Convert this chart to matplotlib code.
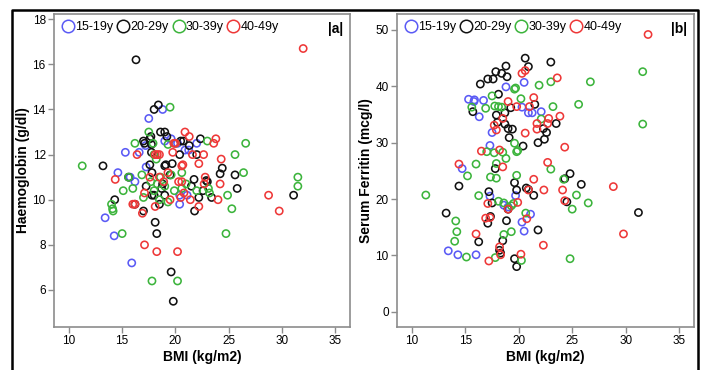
import matplotlib
matplotlib.use("Agg")
import matplotlib.pyplot as plt
from matplotlib.lines import Line2D

plt.rcParams['font.family'] = ['Liberation Sans', 'DejaVu Sans']

groups = ['15-19y', '20-29y', '30-39y', '40-49y']
colors = ['#5a5af5', '#111111', '#3cb43c', '#ee3838']

# panel a: BMI vs haemoglobin
hb_blue = [(13.4, 9.2), (14.25, 8.4), (15.9, 7.2), (14.6, 11.2), (15.3, 12.1), (15.75, 11.0),
           (16.2, 10.8), (17.25, 11.45), (17.5, 13.6), (18.8, 14.0), (19.6, 12.7), (20.4, 10.2),
           (20.4, 9.8), (20.9, 12.2), (21.25, 12.2), (22.0, 12.5), (21.1, 10.2), (17.2, 12.4),
           (19.0, 12.6), (16.6, 12.1), (20.2, 12.5)]
hb_black = [(16.3, 16.2), (18.4, 14.2), (18.0, 14.0), (18.6, 13.0), (19.0, 13.0), (17.7, 12.8),
            (19.2, 12.8), (17.0, 12.6), (17.6, 12.7), (17.1, 12.5), (17.75, 12.45), (20.5, 12.6),
            (20.75, 12.6), (21.3, 12.4), (22.35, 12.7), (13.2, 11.5), (17.75, 12.1), (20.4, 12.0),
            (22.0, 12.0), (17.6, 11.55), (19.1, 11.55), (19.7, 11.6), (19.0, 11.5), (24.4, 11.4),
            (24.2, 11.15), (25.6, 11.1), (15.6, 11.0), (17.8, 11.2), (19.5, 11.1), (21.75, 10.9),
            (23.0, 10.8), (17.25, 10.6), (25.8, 10.5), (18.7, 10.5), (21.5, 10.6), (22.6, 10.4),
            (23.4, 10.1), (22.2, 10.1), (21.8, 9.5), (14.3, 10.0), (17.0, 9.5), (17.8, 10.2),
            (18.0, 10.2), (18.5, 9.8), (19.0, 10.2), (31.1, 10.2), (18.1, 9.0), (18.25, 8.5),
            (19.6, 6.8), (19.8, 5.5), (16.2, 9.8), (18.8, 10.7), (22.9, 10.85)]
hb_green = [(11.25, 11.5), (19.5, 14.1), (17.5, 13.0), (16.2, 12.5), (23.0, 12.6), (26.6, 12.5),
            (17.9, 12.5), (19.3, 12.45), (20.0, 12.5), (18.0, 12.0), (25.6, 12.0), (26.4, 11.2),
            (16.85, 11.1), (15.6, 11.0), (17.7, 10.8), (31.5, 11.0), (31.5, 10.6), (15.1, 10.4),
            (16.0, 10.5), (17.0, 10.1), (18.0, 10.4), (18.5, 10.0), (19.3, 9.9), (19.9, 10.4),
            (20.6, 10.5), (22.0, 10.4), (23.1, 10.5), (23.2, 10.3), (24.9, 10.2), (25.3, 9.6),
            (14.0, 9.8), (14.1, 9.6), (14.15, 9.5), (15.0, 8.5), (24.75, 8.5), (17.8, 6.4),
            (20.2, 6.4), (18.6, 11.0), (21.0, 10.7), (18.3, 10.7), (19.6, 11.1), (20.6, 11.2),
            (18.2, 11.8), (19.0, 10.6)]
hb_red = [(32.0, 16.7), (20.9, 13.0), (21.3, 12.8), (23.8, 12.7), (23.6, 12.5), (19.85, 12.5),
          (20.0, 12.5), (16.4, 12.0), (18.1, 12.0), (18.5, 12.0), (18.3, 12.0), (19.75, 12.1),
          (21.6, 12.0), (22.65, 12.0), (24.3, 11.8), (22.2, 11.6), (20.6, 11.5), (20.7, 11.55),
          (14.35, 10.9), (18.5, 11.0), (20.3, 10.8), (20.6, 10.8), (22.8, 11.0), (22.7, 10.7),
          (24.2, 10.7), (17.1, 10.3), (20.8, 10.3), (20.5, 10.1), (21.4, 10.0), (19.5, 10.0),
          (24.0, 10.0), (28.75, 10.2), (29.75, 9.5), (22.2, 9.7), (16.0, 9.8), (16.2, 9.8),
          (16.9, 9.4), (18.1, 9.7), (17.1, 8.0), (18.25, 7.7), (20.2, 7.7), (18.9, 10.8),
          (17.6, 11.0), (19.3, 11.2)]

# panel b: BMI vs serum ferritin
fe_blue = [(15.3, 37.7), (15.8, 37.3), (15.85, 37.6), (16.7, 37.5), (16.3, 34.6), (18.8, 39.9),
           (20.5, 40.7), (20.3, 36.3), (20.9, 35.3), (21.25, 35.3), (22.1, 35.5), (17.5, 31.8),
           (17.3, 29.5), (14.7, 25.4), (13.4, 10.8), (14.3, 10.1), (16.0, 10.1), (17.3, 20.5),
           (18.6, 18.9), (19.0, 18.6), (19.7, 20.6), (20.3, 15.9), (20.5, 14.3), (21.1, 17.3)]
fe_black = [(20.6, 45.0), (23.0, 44.3), (18.8, 43.6), (20.9, 43.5), (17.85, 42.6), (18.4, 42.3),
            (18.9, 41.7), (17.1, 41.3), (17.6, 41.3), (16.4, 40.4), (18.1, 38.6), (15.7, 35.5),
            (19.25, 36.2), (21.5, 36.8), (17.9, 34.9), (18.0, 33.6), (18.7, 35.3), (18.7, 33.3),
            (19.0, 32.5), (19.4, 32.4), (19.1, 30.9), (22.3, 32.5), (22.6, 31.8), (22.4, 30.6),
            (21.8, 30.0), (23.5, 33.4), (20.4, 29.4), (17.8, 25.4), (14.4, 22.3), (24.3, 23.6),
            (24.8, 24.5), (25.85, 22.6), (19.6, 22.9), (19.8, 21.6), (20.7, 21.95), (20.9, 21.7),
            (21.4, 20.65), (17.2, 21.3), (17.5, 19.3), (24.5, 19.5), (19.0, 18.2), (13.2, 17.5),
            (16.25, 12.4), (17.35, 16.9), (17.1, 15.7), (18.85, 16.15), (18.5, 12.6), (18.2, 10.9),
            (18.3, 10.4), (19.6, 9.4), (19.8, 8.0), (21.8, 14.5), (31.2, 17.6)]
fe_green = [(31.6, 42.6), (26.7, 40.8), (23.0, 40.8), (21.9, 40.2), (19.6, 39.5), (19.7, 39.7),
            (17.5, 38.3), (20.2, 37.8), (15.6, 36.3), (16.9, 36.1), (17.75, 36.5), (18.1, 36.4),
            (18.4, 36.3), (23.2, 36.4), (25.6, 36.8), (22.1, 34.2), (31.6, 33.3), (19.6, 29.9),
            (19.9, 28.6), (19.8, 28.4), (17.0, 28.4), (17.7, 28.2), (18.5, 28.3), (18.8, 27.2),
            (16.0, 26.2), (17.9, 26.3), (23.0, 25.3), (15.2, 24.1), (17.35, 23.9), (17.9, 23.7),
            (19.8, 24.2), (24.2, 23.5), (11.3, 20.7), (16.25, 20.6), (18.1, 19.6), (18.6, 19.3),
            (19.3, 18.8), (19.5, 19.2), (20.65, 17.5), (25.4, 20.7), (25.0, 18.2), (26.5, 19.3),
            (14.1, 16.1), (14.2, 14.2), (14.0, 12.5), (15.1, 9.7), (17.8, 9.6), (18.6, 13.7),
            (19.3, 14.2), (20.25, 9.1), (24.8, 9.4)]
fe_red = [(32.1, 49.2), (20.3, 42.3), (20.6, 42.8), (23.6, 41.5), (19.0, 37.3), (21.4, 38.0),
          (19.8, 36.4), (21.0, 36.4), (18.5, 34.3), (17.9, 32.25), (17.7, 33.1), (20.6, 31.7),
          (22.8, 34.3), (22.7, 33.4), (23.85, 34.7), (21.7, 33.4), (21.7, 32.4), (24.3, 29.2),
          (16.5, 28.5), (18.2, 28.7), (14.4, 26.2), (18.5, 25.7), (22.7, 26.5), (21.4, 23.5),
          (28.85, 22.2), (22.35, 21.6), (24.1, 21.6), (24.3, 19.7), (20.9, 21.6), (17.1, 19.2),
          (19.0, 18.2), (19.9, 19.4), (16.9, 16.6), (17.3, 16.7), (20.75, 16.5), (16.0, 13.8),
          (29.8, 13.8), (22.3, 11.8), (18.2, 11.5), (18.3, 10.1), (17.2, 9.0), (20.2, 10.2)]

panels = [
    dict(data=[hb_blue, hb_black, hb_green, hb_red], ylabel='Haemoglobin (g/dl)', tag='|a|',
         ylim=(4.36, 18.23), yticks=[6, 8, 10, 12, 14, 16, 18], pos=[0.0765, 0.1162, 0.4193, 0.846]),
    dict(data=[fe_blue, fe_black, fe_green, fe_red], ylabel='Serum Ferritin (mcg/l)', tag='|b|',
         ylim=(-2.72, 52.84), yticks=[0, 10, 20, 30, 40, 50], pos=[0.5623, 0.1162, 0.4207, 0.846]),
]

fig = plt.figure(figsize=(7.06, 3.70), dpi=100)

for p in panels:
    ax = fig.add_axes(p['pos'])
    for pts, c in zip(p['data'], colors):
        xs = [a for a, b in pts]
        ys = [b for a, b in pts]
        ax.scatter(xs, ys, s=27, facecolors='none', edgecolors=c, linewidths=1.15)
    ax.set_xlim(8.6, 36.4)
    ax.set_ylim(*p['ylim'])
    ax.set_xticks([10, 15, 20, 25, 30, 35])
    ax.set_yticks(p['yticks'])
    for s in ax.spines.values():
        s.set_color('#8c8c8c')
        s.set_linewidth(1.2)
    ax.tick_params(colors='#8c8c8c', labelcolor='black', labelsize=8.5,
                   length=4, width=1.0, pad=2)
    ax.set_xlabel('BMI (kg/m2)', fontsize=10, weight='bold', labelpad=2)
    ax.set_ylabel(p['ylabel'], fontsize=10, weight='bold', labelpad=2)
    ax.text(0.975, 0.975, p['tag'], transform=ax.transAxes, ha='right', va='top',
            fontsize=10, weight='bold')
    handles = [Line2D([], [], ls='', marker='o', ms=9, mfc='none', mec=c, mew=1.1)
               for c in colors]
    ax.legend(handles, groups, loc='upper left', ncol=4, frameon=False, fontsize=9,
              handletextpad=0.0, columnspacing=0.25, borderaxespad=0.2,
              bbox_to_anchor=(0.0, 1.0), handlelength=1.1)

# outer black frame (open at the bottom)
fx0, fx1, fy = 12 / 706, 698 / 706, 1 - 10 / 370
fig.add_artist(Line2D([fx0, fx0, fx1, fx1], [0, fy, fy, 0], color='black', lw=1.8,
                      transform=fig.transFigure))

fig.savefig('out.png', dpi=100)
